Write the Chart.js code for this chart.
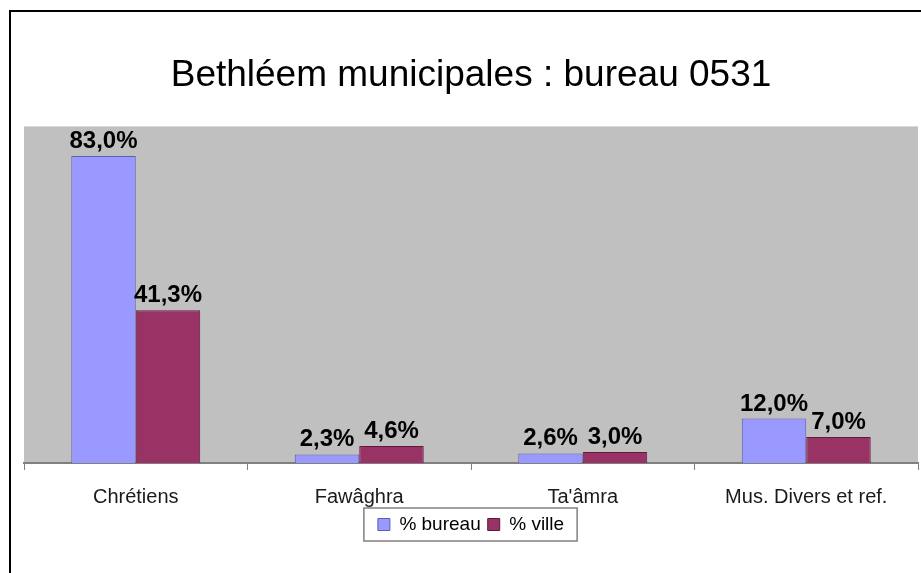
<!DOCTYPE html>
<html lang="fr">
<head>
<meta charset="utf-8">
<title>Bethléem municipales : bureau 0531</title>
<script src="https://cdn.jsdelivr.net/npm/chart.js@4/dist/chart.umd.min.js"></script>
<style>
    html, body { margin: 0; padding: 0; background: #fff; overflow: hidden; }
    #wrap { position: relative; width: 921px; height: 573px; }
    #frame {
        position: absolute; left: 9px; top: 10px;
        width: 1000px; height: 1000px;
        border-left: 2px solid #000; border-top: 2px solid #000;
        pointer-events: none;
    }
    canvas { position: absolute; left: 0; top: 0; }
</style>
</head>
<body>
<div id="wrap">
    <canvas id="chart" width="921" height="573"></canvas>
    <div id="frame"></div>
</div>
<script>
const categories = ['Chrétiens', 'Fawâghra', "Ta'âmra", 'Mus. Divers et ref.'];
const bureauValues = [83.0, 2.3, 2.6, 12.0];
const villeValues = [41.3, 4.6, 3.0, 7.0];
const seriesNames = ['% bureau', '% ville'];

Chart.defaults.font.family = '"Liberation Sans", Arial, sans-serif';
Chart.defaults.color = '#000';

function pct(v) {
    return v.toFixed(1).replace('.', ',') + '%';
}

// grey plot background
const plotBackground = {
    id: 'plotBackground',
    beforeDraw(chart) {
        const { ctx, chartArea: a } = chart;
        ctx.save();
        ctx.fillStyle = '#c0c0c0';
        ctx.fillRect(a.left, a.top, a.right - a.left, a.bottom - a.top);
        ctx.restore();
    }
};

// value written above every bar
const barValues = {
    id: 'barValues',
    afterDatasetsDraw(chart) {
        const ctx = chart.ctx;
        ctx.save();
        ctx.font = 'bold 24px "Liberation Sans", Arial, sans-serif';
        ctx.fillStyle = '#000';
        ctx.textAlign = 'center';
        ctx.textBaseline = 'alphabetic';
        chart.data.datasets.forEach((ds, i) => {
            chart.getDatasetMeta(i).data.forEach((bar, j) => {
                ctx.fillText(pct(ds.data[j]), bar.x, bar.y - 8);
            });
        });
        ctx.restore();
    }
};

// thin frame round the legend
const legendFrame = {
    id: 'legendFrame',
    afterDraw(chart) {
        const boxes = chart.legend.legendHitBoxes;
        if (!boxes || !boxes.length) return;
        const left = Math.min(...boxes.map(b => b.left)) - 14;
        const right = Math.max(...boxes.map(b => b.left + b.width)) + 13;
        const top = Math.min(...boxes.map(b => b.top)) - 7;
        const bottom = Math.max(...boxes.map(b => b.top + b.height)) + 7;
        const ctx = chart.ctx;
        ctx.save();
        ctx.strokeStyle = '#808080';
        ctx.lineWidth = 1.5;
        ctx.strokeRect(left, top, right - left, bottom - top);
        ctx.restore();
    }
};

new Chart(document.getElementById('chart'), {
    type: 'bar',
    data: {
        labels: categories,
        datasets: [{
            label: seriesNames[0],
            data: bureauValues,
            backgroundColor: '#9999ff',
            borderColor: '#5c5cb0',
            borderWidth: 1,
            borderSkipped: 'bottom'
        }, {
            label: seriesNames[1],
            data: villeValues,
            backgroundColor: '#993366',
            borderColor: '#5e1a3c',
            borderWidth: 1,
            borderSkipped: 'bottom'
        }]
    },
    options: {
        responsive: false,
        animation: false,
        layout: {
            padding: { top: 0, left: 24, right: 3, bottom: 29 }
        },
        datasets: {
            bar: {
                categoryPercentage: 0.577,
                barPercentage: 1
            }
        },
        scales: {
            x: {
                offset: true,
                grid: {
                    offset: true,
                    drawOnChartArea: false,
                    drawTicks: true,
                    tickLength: 7,
                    color: '#808080'
                },
                border: { color: '#808080', width: 2 },
                ticks: {
                    padding: 15,
                    color: '#1a1a1a',
                    font: { size: 20 }
                },
                // keep the legend close under the category labels
                afterFit: (scale) => { scale.height = 45; }
            },
            y: {
                display: false,
                min: 0,
                max: 91
            }
        },
        plugins: {
            title: {
                display: true,
                text: 'Bethléem municipales : bureau 0531',
                color: '#000',
                font: { size: 37, weight: 'normal' },
                padding: { top: 54, bottom: 28 }
            },
            legend: {
                position: 'bottom',
                labels: {
                    boxWidth: 12,
                    boxHeight: 12,
                    padding: 7,
                    color: '#000',
                    font: { size: 19 }
                }
            },
            tooltip: { enabled: false }
        }
    },
    plugins: [plotBackground, barValues, legendFrame]
});
</script>
</body>
</html>
